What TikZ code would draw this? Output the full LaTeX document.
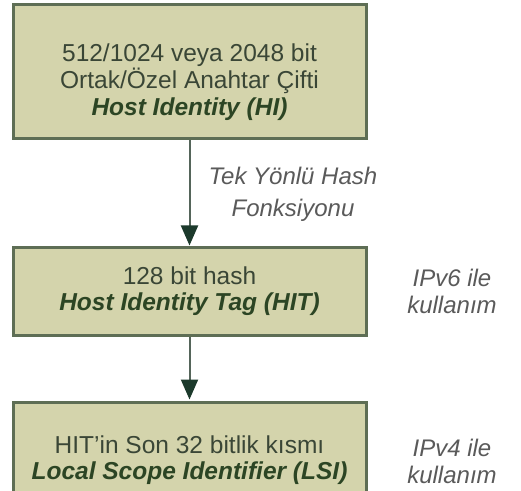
\documentclass[tikz,border=0pt]{standalone}
\usepackage{fontspec}
\setmainfont{Liberation Sans}
\usetikzlibrary{arrows.meta}
\definecolor{boxfill}{HTML}{D4D4AC}
\definecolor{boxborder}{HTML}{5E6E55}
\definecolor{txtreg}{HTML}{3A4636}
\definecolor{txtbold}{HTML}{2C4524}
\definecolor{linec}{HTML}{55655A}
\definecolor{tipc}{HTML}{1C3A2C}
\definecolor{labc}{HTML}{5A5A5A}
\tikzset{
  x=1pt, y=1pt,
  stepbox/.style={draw=boxborder, line width=3pt, fill=boxfill, inner sep=0pt},
  boxtext/.style={align=center, text=txtreg, inner sep=0pt, font=\fontsize{24.5}{26.5}\selectfont},
  sidelab/.style={align=center, text=labc, inner sep=0pt, font=\fontsize{24}{27}\selectfont\itshape},
  flow/.style={draw=linec, line width=2pt, -{Triangle[length=20pt,width=17pt,color=tipc]}, shorten >=1pt}
}
\begin{document}
\begin{tikzpicture}
\useasboundingbox (0,0) rectangle (521,490);
\clip (0,0) rectangle (521,490);
\fill[white] (0,0) rectangle (521,490);
% boxes
\node[stepbox, minimum width=353pt, minimum height=134pt] (b1) at (189.5,418) {};
\node[stepbox, minimum width=353pt, minimum height=87pt] (b2) at (189.5,198.5) {};
\node[stepbox, minimum width=353pt, minimum height=100pt] (b3) at (189.5,38) {};
% box texts
\node[boxtext, font=\fontsize{24.5}{27}\selectfont] (t1) at (189.5,408) {512/1024 veya 2048 bit\\Ortak/Özel Anahtar Çifti\\{\color{txtbold}\bfseries\itshape Host Identity (HI)}};
\node[boxtext] (t2) at (189.5,199) {128 bit hash\\{\color{txtbold}\bfseries\itshape Host Identity Tag (HIT)}};
\node[boxtext] (t3) at (189.5,30) {HIT’in Son 32 bitlik kısmı\\{\color{txtbold}\bfseries\itshape Local Scope Identifier (LSI)}};
% connectors
\draw[flow] (b1.south) -- (b2.north);
\draw[flow] (b2.south) -- (b3.north);
% side labels
\node[sidelab, font=\fontsize{24}{32}\selectfont\itshape] (lh) at (293,296) {Tek Yönlü Hash\\Fonksiyonu};
\node[sidelab] (l6) at (452,199) {IPv6 ile\\kullanım};
\node[sidelab] (l4) at (452,29) {IPv4 ile\\kullanım};
\end{tikzpicture}
\end{document}
